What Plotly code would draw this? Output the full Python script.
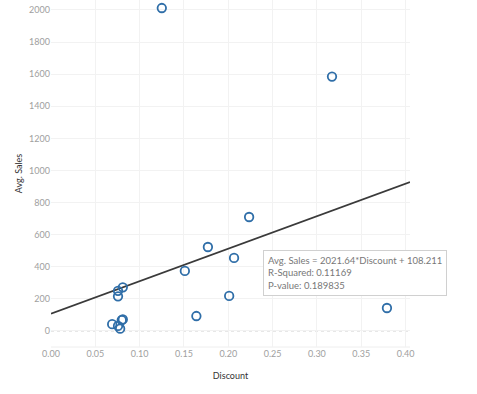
import plotly.graph_objects as go

discount = [0.125, 0.317, 0.2235, 0.177, 0.2065, 0.151, 0.379, 0.201, 0.164,
            0.0756, 0.081, 0.0756, 0.069, 0.0798, 0.081, 0.0756, 0.078]
avg_sales = [2012, 1585, 710, 523, 455, 374, 143, 218, 93,
             250, 272, 216, 42, 67, 72, 31, 14]
slope = 2021.64
intercept = 108.211
r_squared = 0.11169
p_value = 0.189835
line_x = [0.0, 0.405]
line_y = [slope * v + intercept for v in line_x]

font = "Lato"
fig = go.Figure()
fig.add_trace(go.Scatter(x=line_x, y=line_y, mode="lines",
                         line=dict(color="#3a3a3a", width=1.7),
                         hoverinfo="skip", showlegend=False))
fig.add_trace(go.Scatter(x=discount, y=avg_sales, mode="markers", cliponaxis=False,
                         marker=dict(symbol="circle-open", size=8.5,
                                     color="#2f6ea8", line=dict(width=1.8)),
                         showlegend=False))

fig.update_layout(
    width=477, height=394,
    margin=dict(l=51, r=67, t=0, b=47),
    paper_bgcolor="white", plot_bgcolor="white",
    font=dict(family=font, size=9, color="#a0a0a0"),
    xaxis=dict(range=[0, 0.405], tickvals=[0, 0.05, 0.1, 0.15, 0.2, 0.25, 0.3, 0.35, 0.4],
               tickformat=".2f", showgrid=True, gridcolor="#f2f2f2", gridwidth=1,
               zeroline=False, showline=False, ticks="", automargin=False,
               tickfont=dict(size=9, color="#a0a0a0"),
               title=dict(text="Discount", font=dict(size=9, color="#333333"), standoff=14)),
    yaxis=dict(range=[-100, 2062], tickvals=list(range(0, 2001, 200)),
               showgrid=True, gridcolor="#f2f2f2", gridwidth=1,
               zeroline=False, showline=False, ticks="", automargin=False,
               tickfont=dict(size=9, color="#a0a0a0"),
               title=dict(text="Avg. Sales", font=dict(size=9, color="#333333"), standoff=4)),
    shapes=[dict(type="line", xref="paper", yref="y", x0=0, x1=1, y0=0, y1=0,
                 line=dict(color="#c8c8c8", width=1, dash="dot"), layer="below"),
            dict(type="line", xref="paper", yref="paper", x0=0, x1=1, y0=0, y1=0,
                 line=dict(color="#eeeeee", width=1), layer="below")],
    annotations=[dict(xref="paper", yref="paper", x=0.59, y=0.28,
                      xanchor="left", yanchor="top", align="left", showarrow=False,
                      text=(f"Avg. Sales = {slope}*Discount + {intercept}<br>"
                            f"R-Squared: {r_squared}<br>P-value: {p_value}"),
                      font=dict(size=9.5, color="#777777", family=font),
                      bgcolor="white", bordercolor="#d0d0d0", borderwidth=1, borderpad=4)],
)
fig.write_html("out.html", config={"displayModeBar": False},
               post_script="document.body.style.margin='0';")
